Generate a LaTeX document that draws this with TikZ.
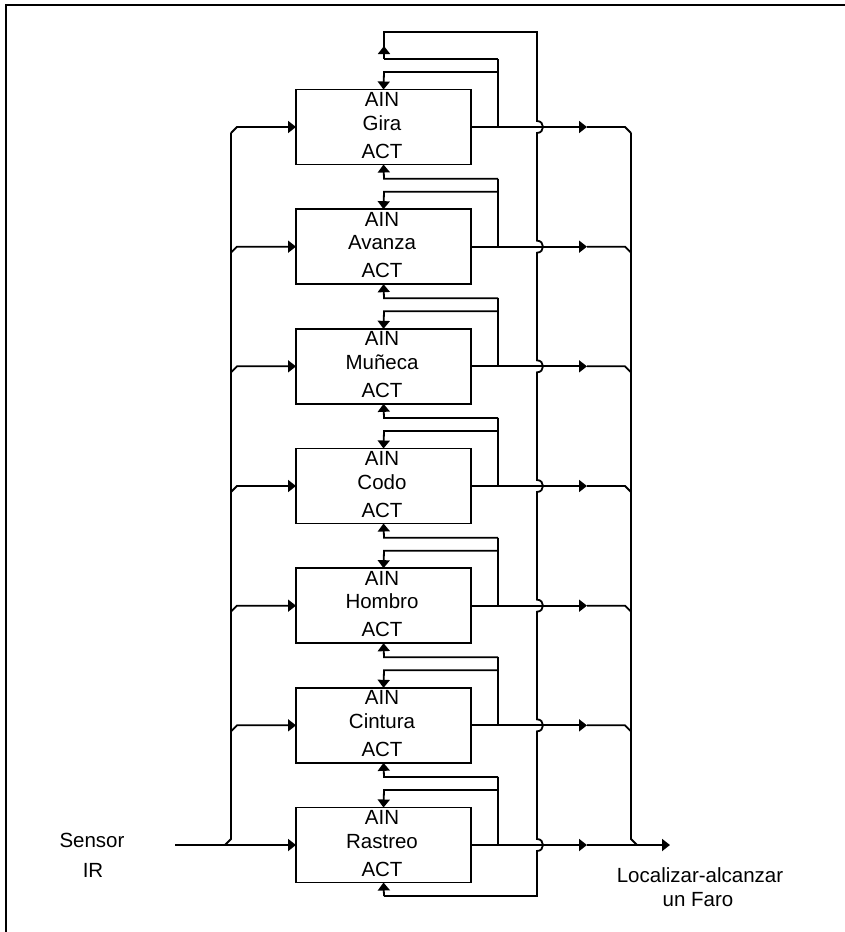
\documentclass[tikz,border=0pt]{standalone}
\usepackage{fontspec}
\setmainfont{Liberation Sans}
\usetikzlibrary{arrows.meta}
\begin{document}
\begin{tikzpicture}[x=1pt,y=-1pt,
  line width=1.8pt,
  tip/.style={-{Triangle[length=8pt,width=12pt]}},
  blk/.style={draw, line width=1.8pt, minimum width=175pt, minimum height=75pt, inner sep=0pt, outer sep=0pt},
  lbl/.style={font=\fontsize{20.5}{24}\selectfont, anchor=base, inner sep=0pt},
]
\useasboundingbox (0,0) rectangle (845,932);
% frame
\draw (6,932) -- (6,5) -- (845,5);

% blocks
\foreach \i/\nm in {0/Gira,1/Avanza,2/Muñeca,3/Codo,4/Hombro,5/Cintura,6/Rastreo}{
  \pgfmathsetmacro\y{127+119.667*\i}
  \node[blk] (b\i) at (383.5,\y) {};
  \node[lbl] (ta\i) at (382,\y-20.5) {AIN};
  \node[lbl] (tn\i) at (382,\y+3) {\nm};
  \node[lbl] (tc\i) at (382,\y+31) {ACT};
  % AIN feedback
  \draw (498,\y) -- (498,\y-68);
  \draw[tip] (498,\y-55) -- (384,\y-55) -- (b\i.north);
}
% ACT of previous block
\foreach \i [evaluate=\i as \j using int(\i-1)] in {1,...,6}{
  \pgfmathsetmacro\y{127+119.667*\i}
  \draw[tip] (498,\y-68) -- (384,\y-68) -- (b\j.south);
}
% inputs
\foreach \i in {0,...,5}{
  \pgfmathsetmacro\y{127+119.667*\i}
  \draw[tip] (231,\y+6) -- (237,\y) -- (b\i.west);
}
\coordinate (in) at (175,845);
\draw[tip] (in) -- (b6.west);
\draw (231,133) -- (231,839) -- (225,845);

% outputs
\foreach \i in {0,...,5}{
  \pgfmathsetmacro\y{127+119.667*\i}
  \draw[tip] (b\i.east) -- (587,\y);
  \draw (587,\y) -- (625,\y) -- (631,\y+6);
}
\coordinate (out) at (670,845);
\draw[tip] (b6.east) -- (587,845);
\draw[tip] (587,845) -- (out);
\draw (631,133) -- (631,839) -- (637,845);

% wrap-around loop from Gira to Rastreo ACT
\draw (498,59) -- (384,59);
\draw[tip] (384,59) -- (384,46);
\draw (384,47) -- (384,32) -- (537,32)
  \foreach \k in {0,...,6}{
    -- (537,{127+119.667*\k-6}) .. controls (545,{127+119.667*\k-6}) and (545,{127+119.667*\k+6}) .. (537,{127+119.667*\k+6})
  } -- (537,896) -- (384,896);
\draw[tip] (384,896) -- (b6.south);

% labels
\node[lbl] (s1) at (92,847) {Sensor};
\node[lbl] (s2) at (93,877) {IR};
\node[lbl] (o1) at (700,882) {Localizar-alcanzar};
\node[lbl] (o2) at (698,906) {un Faro};
\end{tikzpicture}
\end{document}
